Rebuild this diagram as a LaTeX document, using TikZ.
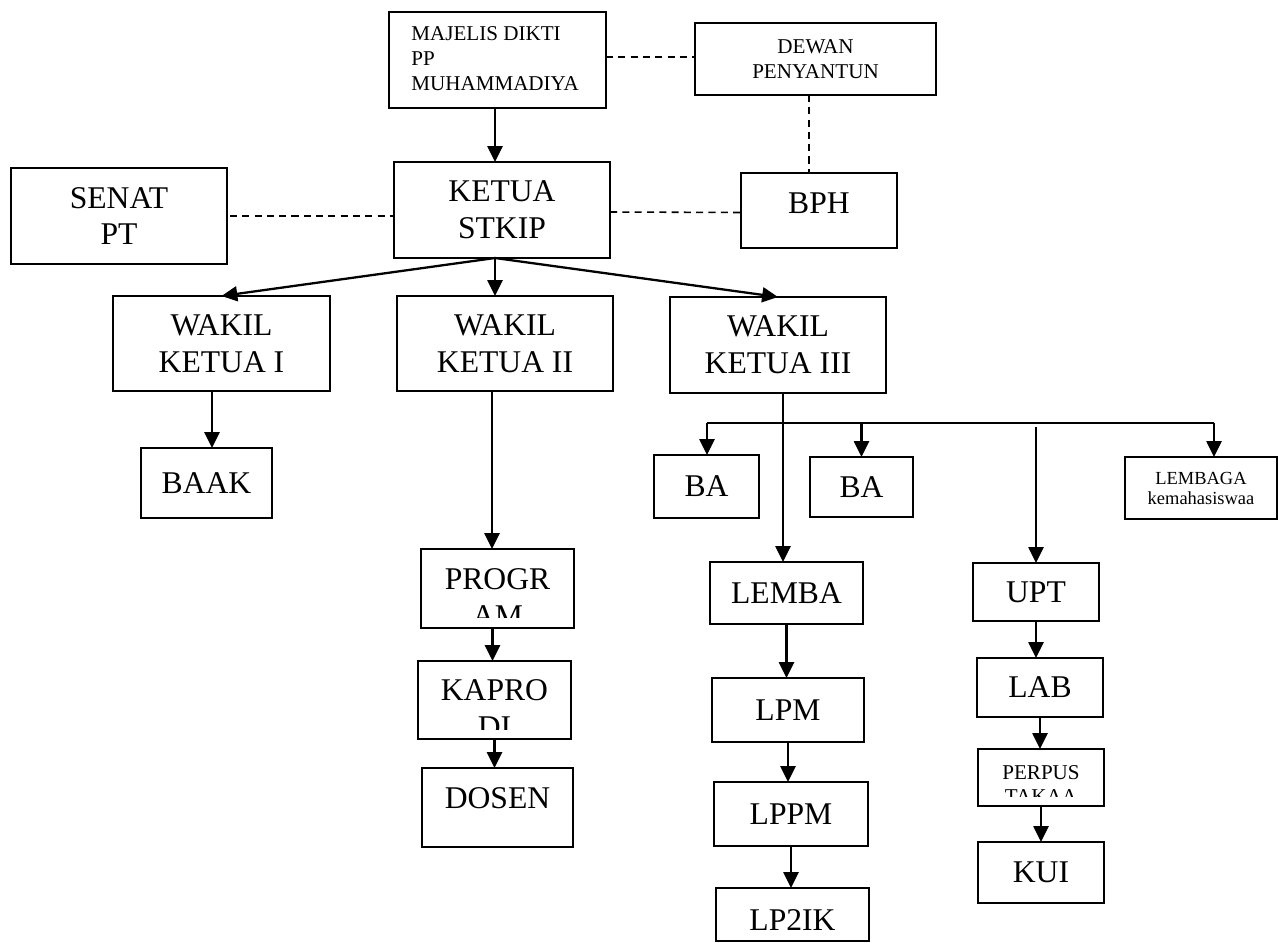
\documentclass[tikz,border=0pt]{standalone}
\usepackage{fontspec}
\setmainfont{Liberation Serif}
\usetikzlibrary{arrows.meta,calc}
% \obox[style]{name}{x1}{y1}{x2}{y2}{text}
\newcommand\obox[7][]{\node[box,#1,minimum width={(#5-#3)*0.02cm},minimum height={(#6-#4)*0.02cm}] (#2) at ({(#3+#5)/2},{(#4+#6)/2}) {#7};}
\begin{document}
\begin{tikzpicture}[x=0.02cm,y=-0.02cm,
 box/.style={draw, line width=0.85pt, inner sep=0pt, outer sep=0pt, align=center},
 txt/.style={inner sep=0pt, align=center},
 big/.style={font=\fontsize{18}{21}\selectfont},
 mid/.style={font=\fontsize{12}{14.2}\selectfont},
 sml/.style={font=\fontsize{10.5}{11.4}\selectfont},
 arr/.style={line width=1.3pt, -{Triangle[length=9pt,width=8.5pt]}},
 dline/.style={line width=0.9pt, dash pattern=on 4pt off 3pt},
 plainline/.style={line width=1.3pt}]
\fill[white] (0,0) rectangle (1278,943);
\useasboundingbox (0,0) rectangle (1278,943);

% top
\obox{maj}{389}{12}{606}{108}{}
\node[txt, mid, align=left, anchor=west] (majT) at (411,59) {MAJELIS DIKTI\\PP\\MUHAMMADIYA};
\obox[mid]{dew}{695}{23}{936}{95}{DEWAN\\PENYANTUN}
\obox[big]{sen}{11}{168}{227}{264}{SENAT\\PT}
\obox[big]{ket}{394}{162}{610}{258}{KETUA\\STKIP}
\obox{bph}{741}{173}{897}{248}{}
\node[txt, big] (bphT) at (819,203) {BPH};

% wakil row
\obox[big]{wk1}{113}{296}{330}{391}{WAKIL\\KETUA I}
\obox[big]{wk2}{397}{296}{613}{391}{WAKIL\\KETUA II}
\obox[big]{wk3}{670}{297}{886}{393}{WAKIL\\KETUA III}

% second level
\obox[big]{baak}{141}{448}{272}{518}{BAAK}
\obox[big]{ba1}{654}{455}{759}{518}{BA}
\obox[big]{ba2}{810}{457}{913}{517}{BA}
\obox[sml]{lemg}{1125}{457}{1277}{519}{LEMBAGA\\kemahasiswaa}

% wakil II column
\obox{prog}{421}{549}{574}{628}{}
\begin{scope}
\clip (421,549) rectangle (574,617);
\node[txt, big] (progT) at (497.5,597.5) {PROGR\\AM};
\end{scope}
\obox{kap}{418}{661}{571}{739}{}
\begin{scope}
\clip (418,661) rectangle (571,729);
\node[txt, big] (kapT) at (494.5,708.5) {KAPRO\\DI};
\end{scope}
\obox{dos}{422}{768}{573}{847}{}
\node[txt, big] (dosT) at (497.5,798) {DOSEN};

% wakil III column
\obox[big]{lem}{710}{562}{863}{624}{LEMBA}
\obox[big]{lpm}{712}{678}{864}{742}{LPM}
\obox[big]{lppm}{714}{782}{868}{846}{LPPM}
\obox{lp2}{716}{888}{869}{941}{}
\node[txt, big] (lp2T) at (792.5,920) {LP2IK};

% UPT column
\obox[big]{upt}{973}{563}{1099}{621}{UPT}
\obox[big]{lab}{977}{658}{1103}{717}{LAB}
\obox{perp}{978}{749}{1104}{806}{}
\begin{scope}
\clip (978,749) rectangle (1104,796);
\node[txt, mid] (perpT) at (1041,784.5) {PERPUS\\TAKAA};
\end{scope}
\obox[big]{kui}{978}{842}{1104}{903}{KUI}

% dashed relations
\draw[dline] (maj.east) ++(0,-3) -- ++(88,0) coordinate (majdew);
\draw[dline] ([xshift=-0.13cm]dew.south) -- ([xshift=-0.13cm]dew.south |- bph.north);
\draw[dline] ([xshift=0.06cm]sen.east) -- (sen.east -| ket.west);
\draw[dline] (ket.east) ++(0.1,2) -- ($(bph.west)+(0,2)$);

% main arrows
\draw[arr] ([xshift=-0.05cm]maj.south) -- ([xshift=-0.05cm]maj.south |- ket.north);
\coordinate (ks) at ([xshift=-0.14cm]ket.south);
\draw[arr] (ks) -- (wk1.north);
\draw[arr] (ks) -- (ks |- wk2.north);
\draw[arr] (ks) -- (wk3.north);

\draw[arr] ([xshift=-0.19cm]wk1.south) -- ([xshift=-0.19cm]wk1.south |- baak.north);
\draw[arr] ([xshift=-0.26cm]wk2.south) -- ([xshift=-0.26cm]wk2.south |- prog.north);
\draw[arr] ([xshift=-0.1cm]prog.south) -- ([xshift=-0.1cm]prog.south |- kap.north);
\draw[arr] (kap.south) -- (kap.south |- dos.north);

\draw[arr] ([xshift=0.1cm]wk3.south) -- ([xshift=0.1cm]wk3.south |- lem.north);
\draw[arr] (lem.south) -- (lem.south |- lpm.north);
\draw[arr] (lpm.south) -- (lpm.south |- lppm.north);
\draw[arr] (lppm.south) -- (lppm.south |- lp2.north);

% bus
\coordinate (busL) at (707,423);
\coordinate (busR) at (1214,423);
\draw[plainline] (busL) -- (busR);
\draw[arr] (busL) -- (busL |- ba1.north);
\draw[arr] (ba2.north |- busL) -- (ba2.north);
\draw[arr] (busR) -- (busR |- lemg.north);

\coordinate (uptS) at (1036,427);
\draw[arr] (uptS) -- (uptS |- upt.north);
\draw[arr] (upt.south) -- (upt.south |- lab.north);
\draw[arr] (lab.south) -- (lab.south |- perp.north);
\draw[arr] (perp.south) -- (perp.south |- kui.north);
\end{tikzpicture}
\end{document}
